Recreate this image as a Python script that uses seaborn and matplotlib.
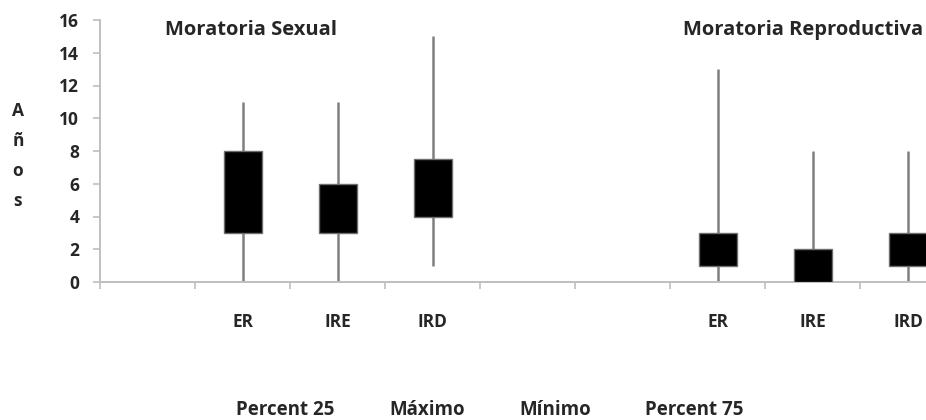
import numpy as np
import pandas as pd
import matplotlib.pyplot as plt
import seaborn as sns

# Category slots along the axis (blank slots are empty categories)
slots = ['e0', 'S_ER', 'S_IRE', 'S_IRD', 'e4', 'e5', 'R_ER', 'R_IRE', 'R_IRD']
slot_labels = ['', 'ER', 'IRE', 'IRD', '', '', 'ER', 'IRE', 'IRD']

# Values (years)
groups = ['S_ER', 'S_IRE', 'S_IRD', 'R_ER', 'R_IRE', 'R_IRD']
minimo = [0, 0, 1, 0, 0, 0]
p25 = [3, 3, 4, 1, 0, 1]
p75 = [8, 6, 7.5, 3, 2, 3]
maximo = [11, 11, 15, 13, 8, 8]

legend_labels = ['Percent 25', 'Máximo', 'Mínimo', 'Percent 75']

# Long table: min, p25, p25, p75, p75, max -> quartiles land exactly on p25/p75
rows = []
for g, lo, q1, q3, hi in zip(groups, minimo, p25, p75, maximo):
    for v in [lo, q1, q1, q3, q3, hi]:
        rows.append({'slot': g, 'value': v})
df = pd.DataFrame(rows)

sns.set_style('white')
plt.rcParams['font.family'] = ['Open Sans', 'DejaVu Sans']
plt.rcParams['font.weight'] = 'bold'

fig = plt.figure(figsize=(9.26, 4.2), dpi=100)
ax = fig.add_axes([100 / 926, 1 - 282 / 420, 1 - 100 / 926, 262 / 420])

grey = '#808080'
sns.boxplot(data=df, x='slot', y='value', order=slots, ax=ax,
            whis=(0, 100), width=0.4, showfliers=False, showcaps=False,
            boxprops=dict(facecolor='black', edgecolor='#6e6e6e', linewidth=1, zorder=3),
            whiskerprops=dict(color=grey, linewidth=1.8, zorder=2),
            medianprops=dict(color='black', linewidth=0))

ax.set_yticks(np.arange(0, 17, 2))
ax.set_xticks(np.arange(-0.5, 8.6, 1))
ax.set_xticklabels([])
ax.set_xticks(range(len(slots)), minor=True)
ax.set_xticklabels(slot_labels, minor=True)
ax.set_ylim(0, 16)
ax.set_xlim(-0.5, 8.19)
ax.tick_params(axis='x', which='minor', bottom=False, length=0, pad=22, labelsize=12.5)
ax.tick_params(axis='x', which='major', bottom=True, length=5, direction='out',
               color='#bfbfbf', width=1.2)
ax.tick_params(axis='y', left=True, length=5, direction='out', color='#bfbfbf', width=1.2,
               labelsize=12.5, pad=10)
ax.set_xlabel('')
ax.set_ylabel('')

for s in ['top', 'right']:
    ax.spines[s].set_visible(False)
for s in ['left', 'bottom']:
    ax.spines[s].set_color('#bfbfbf')
    ax.spines[s].set_linewidth(1.4)

# Section titles
fig.text(165 / 926, 1 - 30 / 420, 'Moratoria Sexual', ha='left', va='center',
         fontsize=14.5, fontweight='bold')
fig.text(683 / 926, 1 - 30 / 420, 'Moratoria Reproductiva', ha='left', va='center',
         fontsize=14.5, fontweight='bold')

# Vertical stacked y label
for i, ch in enumerate('Años'):
    fig.text(18 / 926, 1 - (111 + 30 * i) / 420, ch, ha='center', va='center',
             fontsize=12.5, fontweight='bold')

# Legend entries (text only)
for x, lab in zip([285, 427, 555, 694], legend_labels):
    fig.text(x / 926, 1 - 410 / 420, lab, ha='center', va='center',
             fontsize=13.5, fontweight='bold')

fig.savefig('out.png', dpi=100)
